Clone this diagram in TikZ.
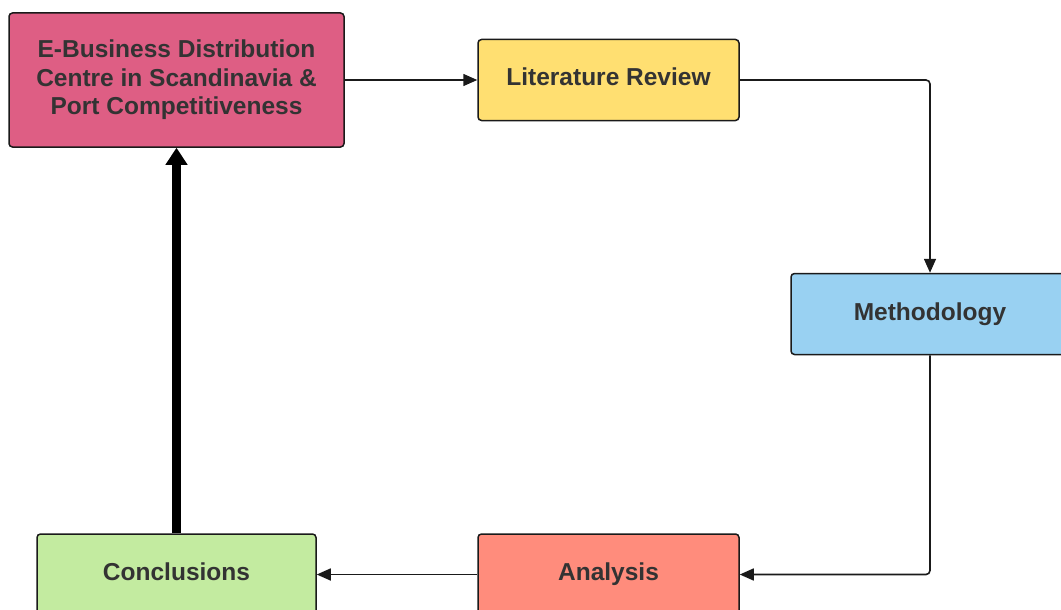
\documentclass[tikz,border=0pt]{standalone}
\usepackage{fontspec}
\setmainfont{Liberation Sans}
\usetikzlibrary{arrows.meta}
\definecolor{ebpink}{HTML}{DE5E84}
\definecolor{lityellow}{HTML}{FFDF71}
\definecolor{methblue}{HTML}{99D1F2}
\definecolor{anasalmon}{HTML}{FF8C7C}
\definecolor{congreen}{HTML}{C3EBA0}
\definecolor{txtgray}{HTML}{333333}
\definecolor{edge}{HTML}{1A1A1A}
\begin{document}
\begin{tikzpicture}[x=1pt,y=-1pt,
  stagebox/.style={draw=edge, line width=1.5pt, rounded corners=3.5pt,
    inner sep=0pt, align=center, text=txtgray,
    font=\fontsize{24.5}{28.5}\selectfont\bfseries},
  oneline/.style={text height=18pt, text depth=6pt},
  flow/.style={draw=edge, line width=1.6pt, rounded corners=4pt,
    -{Triangle[length=14pt,width=12pt]}},
  feedback/.style={draw=black, line width=9pt,
    -{Triangle[length=17pt,width=21pt]}}]
  \useasboundingbox (0,0) rectangle (1061,610);
  \clip (0,0) rectangle (1061,610);

  % research stages
  \node[stagebox, fill=ebpink, minimum width=335pt, minimum height=134pt]
    (eb) at (176.5,80) {E-Business Distribution\\Centre in Scandinavia \&\\Port Competitiveness};
  \node[stagebox, oneline, fill=lityellow, minimum width=261pt, minimum height=81pt]
    (lit) at (608.5,80) {Literature Review};
  \node[stagebox, oneline, fill=methblue, minimum width=278pt, minimum height=81pt]
    (meth) at (930,314) {Methodology};
  \node[stagebox, oneline, fill=anasalmon, minimum width=261pt, minimum height=81pt]
    (ana) at (608.5,574.5) {Analysis};
  \node[stagebox, oneline, fill=congreen, minimum width=279pt, minimum height=81pt]
    (con) at (176.5,574.5) {Conclusions};

  % process flow
  \draw[flow] (eb.east) -- (lit.west);
  \draw[flow] (lit.east) -| (meth.north);
  \draw[flow] (meth.south) |- (ana.east);
  \draw[flow] (ana.west) -- (con.east);

  % feedback to the topic
  \draw[feedback] (con.north) -- (eb.south);
\end{tikzpicture}
\end{document}
